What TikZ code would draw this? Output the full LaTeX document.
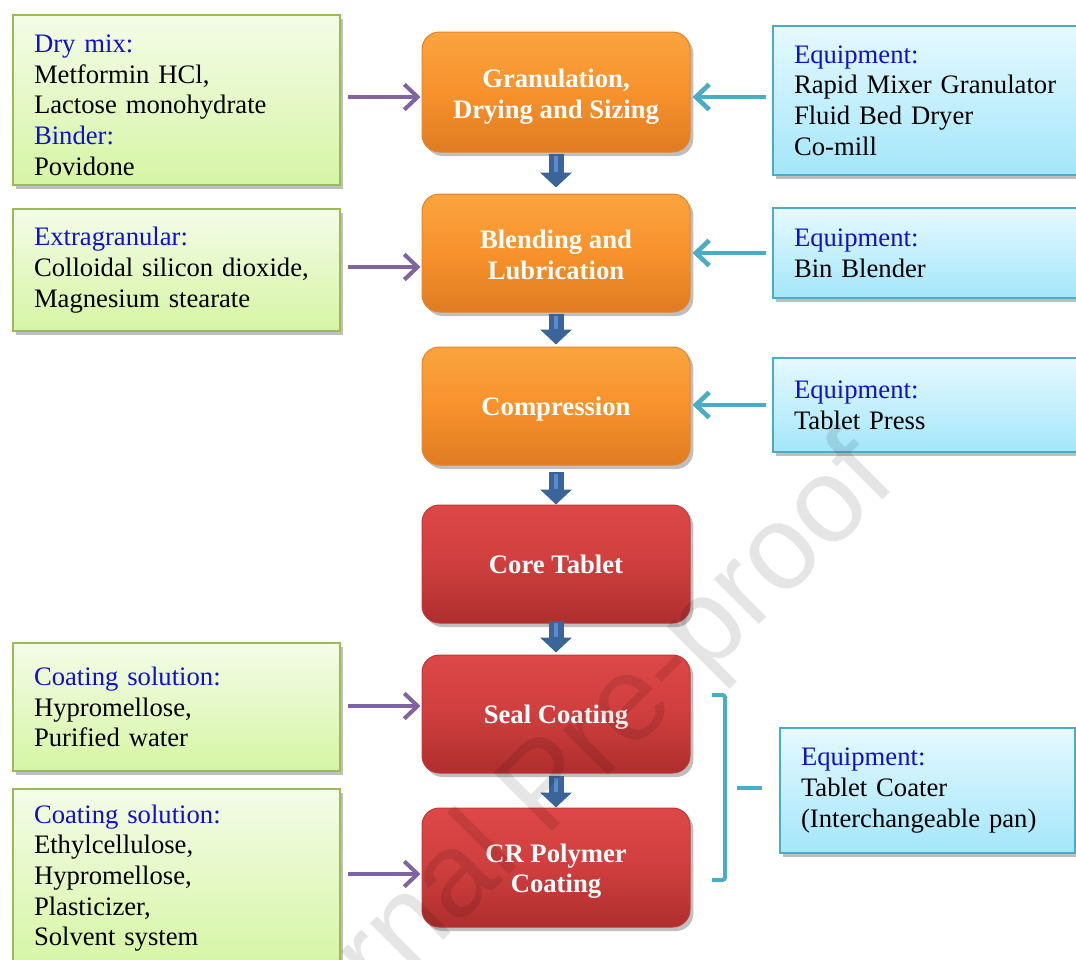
\documentclass[tikz,border=0pt]{standalone}
\usepackage{fontspec}
\setmainfont{Liberation Serif}
\newfontfamily\wmfont{Liberation Sans}
\usetikzlibrary{arrows.meta,shadows}
\definecolor{grnB}{HTML}{9BBB59}
\definecolor{grnT}{HTML}{F4FCE8}
\definecolor{grnBot}{HTML}{D6F5A4}
\definecolor{bluB}{HTML}{4BACC6}
\definecolor{bluT}{HTML}{E6F9FF}
\definecolor{bluBot}{HTML}{A3E6FA}
\definecolor{orT}{HTML}{FBA43F}
\definecolor{orM}{HTML}{F7922C}
\definecolor{orBot}{HTML}{E07B22}
\definecolor{orEdge}{HTML}{E5842A}
\definecolor{rdT}{HTML}{DE4747}
\definecolor{rdM}{HTML}{CF3E3E}
\definecolor{rdBot}{HTML}{AF2E2E}
\definecolor{rdEdge}{HTML}{C03838}
\definecolor{lblue}{HTML}{1010D0}
\definecolor{purp}{HTML}{8064A2}
\definecolor{dblue}{HTML}{3B6498}
\definecolor{hblue}{HTML}{5A8CCB}
\newcommand{\lbltxt}[1]{\textcolor{lblue}{#1}}
\newcommand{\toprule}[1]{\rule{0pt}{#1}}
\tikzset{
 base/.style={font=\fontsize{20}{23}\selectfont, inner ysep=0pt,
   drop shadow={shadow xshift=2.5pt, shadow yshift=-3pt, opacity=0.25, fill=black}},
 inbox/.style={base, draw=grnB, line width=1.5pt, top color=grnT, bottom color=grnBot,
   align=left, text width=213.75pt, inner xsep=15.75pt},
 eqbox/.style={base, draw=bluB, line width=1.5pt, top color=bluT, bottom color=bluBot,
   align=left, inner xsep=15.75pt, text width=#1},
 proc/.style={base, rounded corners=13pt, minimum width=201pt, minimum height=88.5pt,
   text=white, font=\bfseries\fontsize{20}{23}\selectfont, align=center, line width=0.75pt},
 oneline/.style={execute at begin node={\rule{0pt}{18.6pt}},
   execute at end node={\rule[-4.6pt]{0pt}{4.6pt}}},
 orangebox/.style={proc, draw=orEdge, top color=orT, bottom color=orBot, middle color=orM},
 redbox/.style={proc, draw=rdEdge, top color=rdT, bottom color=rdBot, middle color=rdM},
 parr/.style={purp, line width=3pt, -{Straight Barb[length=10pt,width=19pt]},
   shorten <=5.25pt, shorten >=0.75pt},
 carr/.style={bluB, line width=3.5pt, -{Straight Barb[length=10pt,width=19pt]},
   shorten <=4.5pt, shorten >=1.5pt},
 darr/.style={dblue, line width=11.25pt, -{Triangle[length=11.25pt,width=23.25pt]}},
 dhl/.style={hblue, line width=3.5pt},
 brk/.style={bluB, line width=3pt},
}
\begin{document}
\begin{tikzpicture}[x=0.75pt,y=-0.75pt]
\useasboundingbox (0,0) rectangle (1076,960);
\clip (0,0) rectangle (1076,960);

% left input boxes
\node[inbox, minimum height=127.5pt] (G1) at (176.5,100)
  {\rule{0pt}{21pt}\lbltxt{Dry mix:}\\Metformin HCl,\\Lactose monohydrate\\\lbltxt{Binder:}\\Povidone};
\node[inbox, minimum height=91.5pt] (G2) at (176.5,270)
  {\lbltxt{Extragranular:}\\Colloidal silicon dioxide,\\Magnesium stearate};
\node[inbox, minimum height=96pt] (G3) at (176.5,707)
  {\lbltxt{Coating solution:}\\Hypromellose,\\Purified water};
\node[inbox, minimum height=133.5pt] (G4) at (176.5,878)
  {\lbltxt{Coating solution:}\\Ethylcellulose,\\Hypromellose,\\Plasticizer,\\Solvent system};

% process boxes
\node[orangebox, minimum height=90pt] (O1) at (556,92) {\toprule{21pt}Granulation,\\Drying and Sizing};
\node[orangebox] (O2) at (556,253) {\toprule{17pt}Blending and\\Lubrication};
\node[orangebox, oneline] (O3) at (556,406) {Compression};
\node[redbox, oneline] (R1) at (556,564) {Core Tablet};
\node[redbox, oneline] (R2) at (556,714) {Seal Coating};
\node[redbox, minimum height=89.25pt] (R3) at (556,867.5) {\toprule{19.5pt}CR Polymer\\Coating};

% equipment boxes
\node[eqbox=206.25pt, minimum height=111.75pt] (B1) at (931.5,100.5)
  {\lbltxt{Equipment:}\\Rapid Mixer Granulator\\Fluid Bed Dryer\\Co-mill};
\node[eqbox=206.25pt, minimum height=67.5pt] (B2) at (931.5,253)
  {\lbltxt{Equipment:}\\Bin Blender};
\node[eqbox=206.25pt, minimum height=70.5pt] (B3) at (931.5,405)
  {\lbltxt{Equipment:}\\Tablet Press};
\node[eqbox=189.75pt, minimum height=93.75pt] (B4) at (927.5,790.5)
  {\lbltxt{Equipment:}\\Tablet Coater\\(Interchangeable pan)};

% arrow levels
\coordinate (yA) at (0,97);
\coordinate (yB) at (0,267);
\coordinate (yC) at (0,706);
\coordinate (yD) at (0,874);
\coordinate (zA) at (0,97);
\coordinate (zB) at (0,253);
\coordinate (zC) at (0,405);

% purple input arrows
\draw[parr] (G1.east |- yA) -- (O1.west |- yA);
\draw[parr] (G2.east |- yB) -- (O2.west |- yB);
\draw[parr] (G3.east |- yC) -- (R2.west |- yC);
\draw[parr] (G4.east |- yD) -- (R3.west |- yD);

% cyan equipment arrows
\draw[carr] (B1.west |- zA) -- (O1.east |- zA);
\draw[carr] (B2.west |- zB) -- (O2.east |- zB);
\draw[carr] (B3.west |- zC) -- (O3.east |- zC);

% down arrows
\foreach \a/\b/\s/\e/\hs/\he in {O1/O2/0.75pt/4.5pt/2.25pt/16.5pt,
   O2/O3/0.75pt/1.5pt/2.25pt/13.5pt,
   O3/R1/4.5pt/0pt/6pt/12pt,
   R1/R2/-2.25pt/1.5pt/-0.75pt/13.5pt,
   R2/R3/1.5pt/0pt/3pt/12pt}{
  \draw[darr, shorten <=\s, shorten >=\e] (\a.south) -- (\b.north);
  \draw[dhl, shorten <=\hs, shorten >=\he] (\a.south) -- (\b.north);
}

% bracket and dash to coater
\draw[brk, rounded corners=2pt] (712,695) -- (725,695) -- (725,880) -- (712,880);
\coordinate (brkdash) at (737,788);
\draw[brk, shorten >=12.75pt] (brkdash) -- (brkdash -| B4.west);

% watermark
\node[rotate=45, text=black, text opacity=0.1, inner sep=0pt,
  font=\wmfont\fontsize{90}{90}\selectfont] (wm) at (550,790) {Journal Pre-proof};
\end{tikzpicture}
\end{document}
